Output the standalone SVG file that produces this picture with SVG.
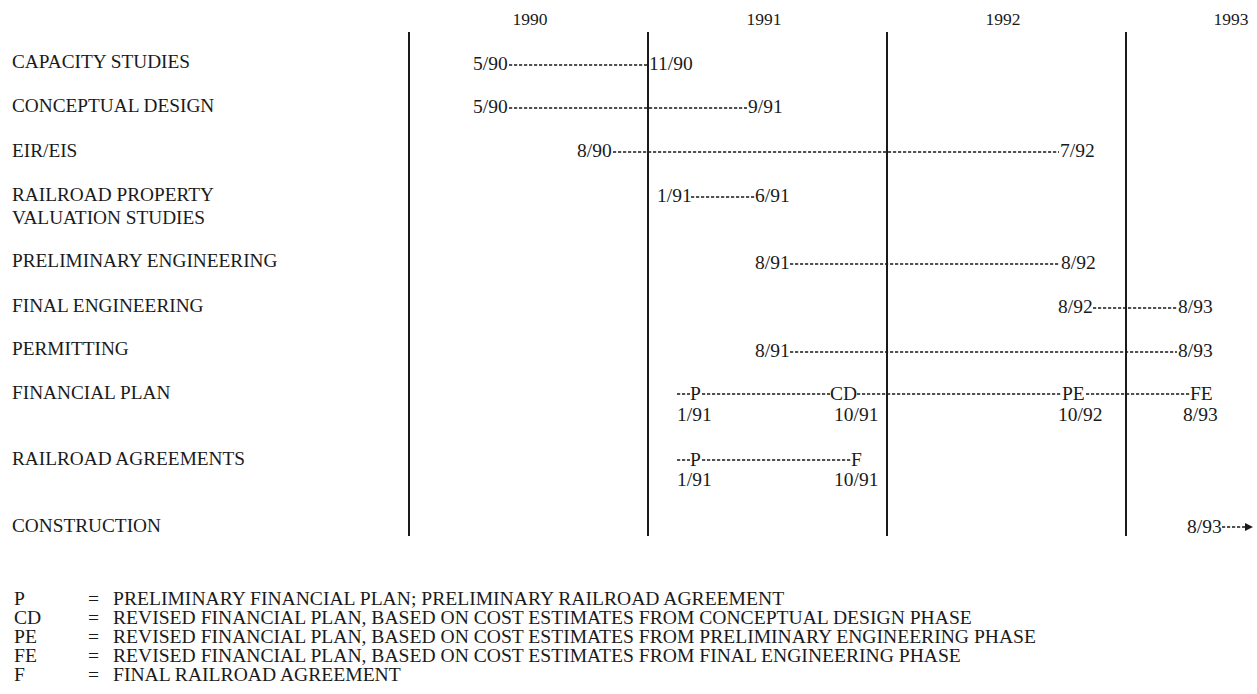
<svg xmlns="http://www.w3.org/2000/svg" width="1257" height="694" viewBox="0 0 1257 694">
<defs>
<style>
text{font-family:"Liberation Serif","Times New Roman",serif;fill:#1a1a1a}
.lbl{font-size:19.3px}
.dt{font-size:19.5px}
.yr{font-size:17.5px}
.lg{font-size:19.6px}
.grid{stroke:#1a1a1a;stroke-width:2;fill:none}
.dash{stroke:#1a1a1a;stroke-width:1.4;stroke-dasharray:3.2 1.8;fill:none}
</style>
<marker id="arr" viewBox="0 0 10 10" refX="0" refY="5" markerWidth="8" markerHeight="8" markerUnits="userSpaceOnUse" orient="auto">
<path d="M0,0 L10,5 L0,10 Z" fill="#1a1a1a"/>
</marker>
</defs>
<rect width="1257" height="694" fill="#ffffff"/>

<g id="years">
<text class="yr" x="530" y="25" text-anchor="middle">1990</text>
<text class="yr" x="764" y="25" text-anchor="middle">1991</text>
<text class="yr" x="1003" y="25" text-anchor="middle">1992</text>
<text class="yr" x="1231" y="25" text-anchor="middle">1993</text>
</g>

<g id="grid">
<line class="grid" x1="409" y1="32" x2="409" y2="536"/>
<line class="grid" x1="648" y1="32" x2="648" y2="536"/>
<line class="grid" x1="887" y1="32" x2="887" y2="536"/>
<line class="grid" x1="1126" y1="32" x2="1126" y2="536"/>
</g>

<g id="connectors">
<line class="dash" x1="509" y1="65" x2="647" y2="65"/>
<line class="dash" x1="509" y1="108" x2="747" y2="108"/>
<line class="dash" x1="613" y1="152" x2="1059" y2="152"/>
<line class="dash" x1="691" y1="197" x2="755" y2="197"/>
<line class="dash" x1="790" y1="264" x2="1060" y2="264"/>
<line class="dash" x1="1093" y1="308" x2="1177" y2="308"/>
<line class="dash" x1="790" y1="352" x2="1177" y2="352"/>
<line class="dash" x1="677" y1="394" x2="690" y2="394"/>
<line class="dash" x1="702" y1="394" x2="830" y2="394"/>
<line class="dash" x1="857" y1="394" x2="1062" y2="394"/>
<line class="dash" x1="1086" y1="394" x2="1190" y2="394"/>
<line class="dash" x1="677" y1="460" x2="690" y2="460"/>
<line class="dash" x1="702" y1="460" x2="851" y2="460"/>
<line class="dash" x1="1222" y1="527" x2="1245" y2="527" marker-end="url(#arr)"/>
</g>

<g id="capacity-studies">
<text class="lbl" x="12" y="68">CAPACITY STUDIES</text>
<text class="dt" x="473" y="70">5/90</text>
<text class="dt" x="649" y="70">11/90</text>
</g>
<g id="conceptual-design">
<text class="lbl" x="12" y="112">CONCEPTUAL DESIGN</text>
<text class="dt" x="473" y="113">5/90</text>
<text class="dt" x="748" y="113">9/91</text>
</g>
<g id="eir-eis">
<text class="lbl" x="12" y="157">EIR/EIS</text>
<text class="dt" x="577" y="157">8/90</text>
<text class="dt" x="1060" y="157">7/92</text>
</g>
<g id="railroad-property">
<text class="lbl" x="12" y="201">RAILROAD PROPERTY</text>
<text class="lbl" x="12" y="224">VALUATION STUDIES</text>
<text class="dt" x="657" y="202">1/91</text>
<text class="dt" x="755" y="202">6/91</text>
</g>
<g id="preliminary-engineering">
<text class="lbl" x="12" y="267">PRELIMINARY ENGINEERING</text>
<text class="dt" x="755" y="269">8/91</text>
<text class="dt" x="1061" y="269">8/92</text>
</g>
<g id="final-engineering">
<text class="lbl" x="12" y="312">FINAL ENGINEERING</text>
<text class="dt" x="1058" y="313">8/92</text>
<text class="dt" x="1178" y="313">8/93</text>
</g>
<g id="permitting">
<text class="lbl" x="12" y="355">PERMITTING</text>
<text class="dt" x="755" y="357">8/91</text>
<text class="dt" x="1178" y="357">8/93</text>
</g>
<g id="financial-plan">
<text class="lbl" x="12" y="399">FINANCIAL PLAN</text>
<text class="dt" x="690" y="400">P</text>
<text class="dt" x="830" y="400">CD</text>
<text class="dt" x="1062" y="400">PE</text>
<text class="dt" x="1190" y="400">FE</text>
<text class="dt" x="677" y="421">1/91</text>
<text class="dt" x="834" y="421">10/91</text>
<text class="dt" x="1058" y="421">10/92</text>
<text class="dt" x="1183" y="421">8/93</text>
</g>
<g id="railroad-agreements">
<text class="lbl" x="12" y="465">RAILROAD AGREEMENTS</text>
<text class="dt" x="690" y="466">P</text>
<text class="dt" x="851" y="466">F</text>
<text class="dt" x="677" y="486">1/91</text>
<text class="dt" x="834" y="486">10/91</text>
</g>
<g id="construction">
<text class="lbl" x="12" y="532">CONSTRUCTION</text>
<text class="dt" x="1187" y="533">8/93</text>
</g>

<g id="legend">
<text class="lg" x="14" y="605">P</text>
<text class="lg" x="88" y="605">=</text>
<text class="lg" x="113" y="605">PRELIMINARY FINANCIAL PLAN; PRELIMINARY RAILROAD AGREEMENT</text>
<text class="lg" x="14" y="624">CD</text>
<text class="lg" x="88" y="624">=</text>
<text class="lg" x="113" y="624">REVISED FINANCIAL PLAN, BASED ON COST ESTIMATES FROM CONCEPTUAL DESIGN PHASE</text>
<text class="lg" x="14" y="643">PE</text>
<text class="lg" x="88" y="643">=</text>
<text class="lg" x="113" y="643">REVISED FINANCIAL PLAN, BASED ON COST ESTIMATES FROM PRELIMINARY ENGINEERING PHASE</text>
<text class="lg" x="14" y="662">FE</text>
<text class="lg" x="88" y="662">=</text>
<text class="lg" x="113" y="662">REVISED FINANCIAL PLAN, BASED ON COST ESTIMATES FROM FINAL ENGINEERING PHASE</text>
<text class="lg" x="14" y="681">F</text>
<text class="lg" x="88" y="681">=</text>
<text class="lg" x="113" y="681">FINAL RAILROAD AGREEMENT</text>
</g>
</svg>
